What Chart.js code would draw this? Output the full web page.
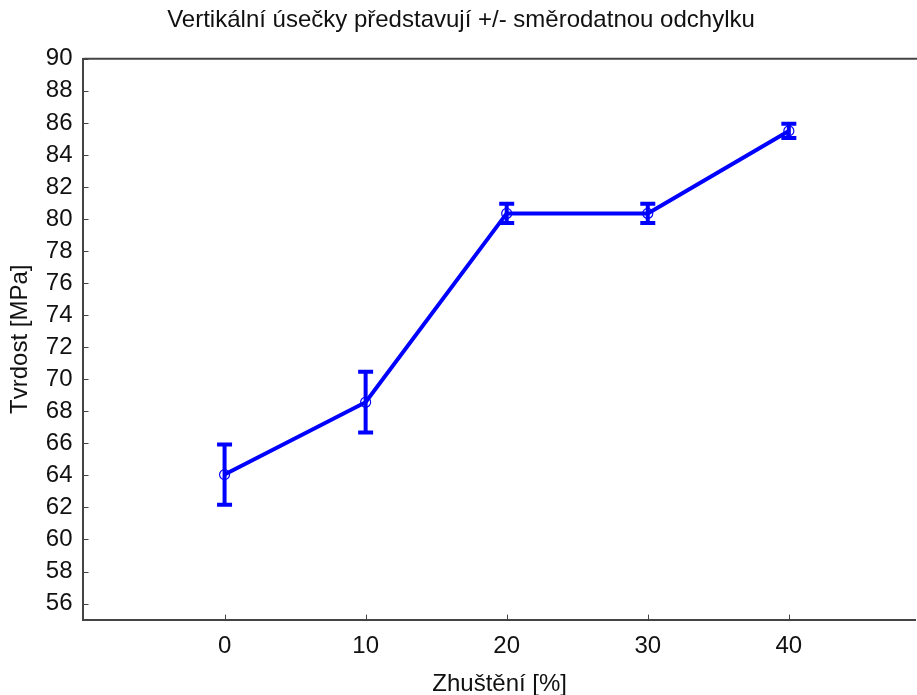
<!DOCTYPE html>
<html lang="cs">
<head>
  <meta charset="UTF-8" />
  <title>Tvrdost vs. zhuštění</title>
  <script src="https://cdn.jsdelivr.net/npm/chart.js"></script>
  <style>
    html, body { margin: 0; padding: 0; background: #fff; overflow: hidden; }
    #wrap { width: 922px; height: 695px; }
  </style>
</head>
<body>
  <div id="wrap"><canvas id="graf"></canvas></div>

  <script>
    // data
    const zhusteni = [0, 10, 20, 30, 40];
    const tvrdost = [64.05, 68.57, 80.35, 80.35, 85.5];
    const odchylka = [1.88, 1.9, 0.6, 0.6, 0.45];
    const xTicks = [0, 10, 20, 30, 40];
    const yTicks = [56, 58, 60, 62, 64, 66, 68, 70, 72, 74, 76, 78, 80, 82, 84, 86, 88, 90];

    const modra = '#0000ff';
    const osa = '#444';
    const pismo = 'Arial, "Liberation Sans", sans-serif';

    // chybové úsečky + vnitřní značky os + horní okraj
    const doplnky = {
      id: 'doplnky',
      afterDatasetsDraw(chart) {
        const { ctx, scales: { x, y } } = chart;
        ctx.save();
        ctx.strokeStyle = modra;
        ctx.lineWidth = 4;
        zhusteni.forEach((v, i) => {
          const px = x.getPixelForValue(v);
          const top = y.getPixelForValue(tvrdost[i] + odchylka[i]);
          const bot = y.getPixelForValue(tvrdost[i] - odchylka[i]);
          ctx.beginPath();
          ctx.moveTo(px, top); ctx.lineTo(px, bot);
          ctx.moveTo(px - 7.5, top); ctx.lineTo(px + 7.5, top);
          ctx.moveTo(px - 7.5, bot); ctx.lineTo(px + 7.5, bot);
          ctx.stroke();
        });
        ctx.restore();
      },
      afterDraw(chart) {
        const { ctx, chartArea: a, scales: { x, y } } = chart;
        ctx.save();
        ctx.strokeStyle = osa;
        ctx.lineWidth = 1;
        xTicks.forEach(v => {
          const px = Math.round(x.getPixelForValue(v)) + 0.5;
          ctx.beginPath(); ctx.moveTo(px, a.bottom); ctx.lineTo(px, a.bottom - 5); ctx.stroke();
        });
        yTicks.forEach(v => {
          const py = Math.round(y.getPixelForValue(v)) + 0.5;
          ctx.beginPath(); ctx.moveTo(a.left, py); ctx.lineTo(a.left + 5, py); ctx.stroke();
        });
        ctx.lineWidth = 2;
        ctx.beginPath(); ctx.moveTo(a.left, a.top); ctx.lineTo(chart.width, a.top); ctx.stroke();
        ctx.restore();
      }
    };

    new Chart(document.getElementById('graf'), {
      type: 'line',
      data: {
        datasets: [{
          data: zhusteni.map((v, i) => ({ x: v, y: tvrdost[i] })),
          borderColor: modra,
          borderWidth: 4,
          pointRadius: 5,
          pointBorderWidth: 1.2,
          pointBackgroundColor: 'rgba(0,0,0,0)',
          pointBorderColor: modra,
          tension: 0
        }]
      },
      options: {
        responsive: true,
        maintainAspectRatio: false,
        animation: false,
        layout: { padding: 0 },
        plugins: {
          legend: { display: false },
          tooltip: { enabled: false },
          title: {
            display: true,
            text: 'Vertikální úsečky představují +/- směrodatnou odchylku',
            color: '#111',
            font: { family: pismo, size: 24, weight: 'normal', lineHeight: 1.2 },
            padding: { top: 6, bottom: 24 }
          }
        },
        scales: {
          x: {
            type: 'linear',
            min: -10,
            max: 49,
            afterBuildTicks: s => { s.ticks = xTicks.map(v => ({ value: v })); },
            grid: { display: true, drawOnChartArea: false, drawTicks: false },
            border: { display: true, color: osa, width: 2 },
            ticks: { color: '#111', padding: 12, font: { family: pismo, size: 24, lineHeight: 1.2 } },
            title: {
              display: true,
              text: 'Zhuštění [%]',
              color: '#111',
              font: { family: pismo, size: 24, lineHeight: 0.9 },
              padding: { top: 1, bottom: 0 }
            }
          },
          y: {
            min: 55,
            max: 90,
            afterBuildTicks: s => { s.ticks = yTicks.map(v => ({ value: v })); },
            grid: { display: true, drawOnChartArea: false, drawTicks: false },
            border: { display: true, color: osa, width: 2 },
            ticks: { color: '#111', padding: 11, font: { family: pismo, size: 24 } },
            title: {
              display: true,
              text: 'Tvrdost [MPa]',
              color: '#111',
              font: { family: pismo, size: 24, lineHeight: 1.2 },
              padding: { top: 6, bottom: 0 }
            }
          }
        }
      },
      plugins: [doplnky]
    });
  </script>
</body>
</html>
